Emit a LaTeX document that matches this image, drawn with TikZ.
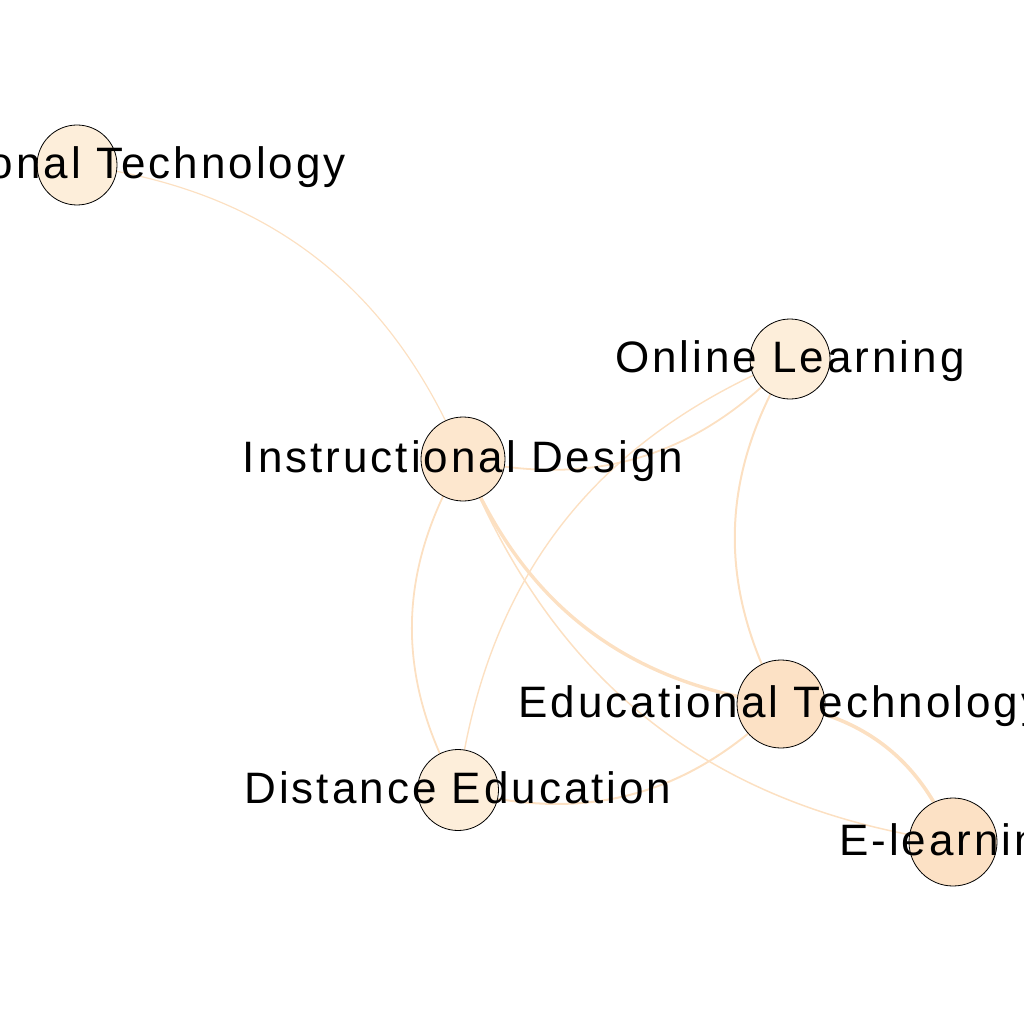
\documentclass[tikz,border=0pt]{standalone}
\usepackage{fontspec}
\setmainfont{Liberation Sans}
\newfontfamily\kwfont[LetterSpace=6.8]{Liberation Sans}
\usetikzlibrary{backgrounds}

\definecolor{kwlight}{HTML}{FDEEDA}
\definecolor{kwmid}{HTML}{FDE7CE}
\definecolor{kwdark}{HTML}{FCE1C5}
\definecolor{linkcol}{HTML}{FCE0C2}

\begin{document}
\begin{tikzpicture}[x=1pt, y=1pt,
    kw/.style={circle, draw=black, line width=0.8pt, inner sep=0pt},
    link/.style={draw=linkcol, line cap=round},
    kwlabel/.style={anchor=base, inner sep=0pt, font=\kwfont\fontsize{44}{50}\selectfont}]

    \useasboundingbox (0,0) rectangle (1024,-1024);
    \clip (0,0) rectangle (1024,-1024);

    % Keywords
    \node[kw, fill=kwlight, minimum size=80pt] (IT) at (77,-165) {};
    \node[kw, fill=kwlight, minimum size=80pt] (OL) at (790,-359) {};
    \node[kw, fill=kwmid, minimum size=84pt] (ID) at (463,-459) {};
    \node[kw, fill=kwdark, minimum size=88pt] (ET) at (781,-704) {};
    \node[kw, fill=kwlight, minimum size=81pt] (DE) at (458,-790) {};
    \node[kw, fill=kwdark, minimum size=88pt] (EL) at (953,-842) {};

    % Co-occurrence links (behind the keywords)
    \begin{scope}[on background layer]
    \foreach \a/\b/\w in {IT/ID/1.2, OL/ID/1.8, DE/OL/1.4, ET/OL/2,
        ET/ID/3.4, ET/EL/3.6, EL/ID/1.5, DE/ID/1.8, ET/DE/2} {
        \draw[link, line width=\w pt] (\a.center) to[bend left=30] (\b.center);
    }
    \end{scope}

    % Labels on top
    \node[kwlabel] (tIT) at ([yshift=-13.5pt]IT.center) {Instructional Technology};
    \node[kwlabel] (tOL) at ([yshift=-13.5pt]OL.center) {Online Learning};
    \node[kwlabel] (tID) at ([yshift=-13.5pt]ID.center) {Instructional Design};
    \node[kwlabel] (tET) at ([yshift=-13.5pt]ET.center) {Educational Technology};
    \node[kwlabel] (tDE) at ([yshift=-13.5pt]DE.center) {Distance Education};
    \node[kwlabel] (tEL) at ([yshift=-13.5pt]EL.center) {E-learning};

\end{tikzpicture}
\end{document}
